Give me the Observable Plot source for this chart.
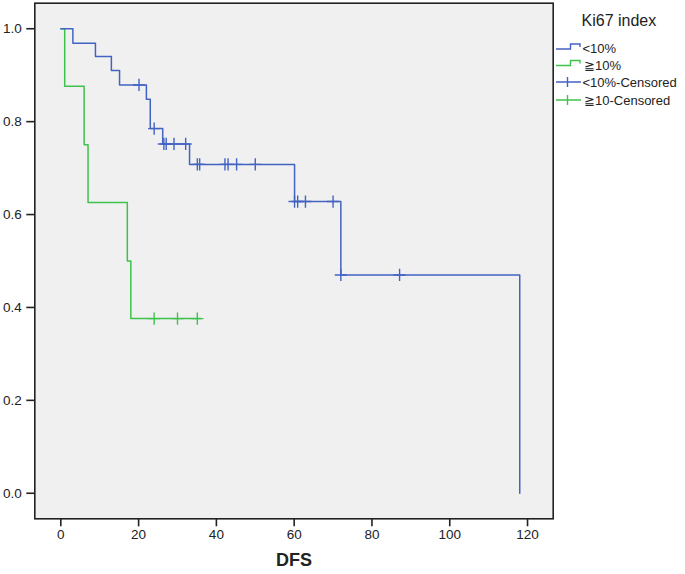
<!DOCTYPE html>
<html>
<head>
<meta charset="utf-8">
<script src="https://cdn.jsdelivr.net/npm/d3@7"></script>
<script src="https://cdn.jsdelivr.net/npm/@observablehq/plot@0.6"></script>
<style>
  html, body { margin: 0; padding: 0; background: #fff; }
  #wrap { position: relative; width: 685px; height: 574px; font-family: "Liberation Sans", Arial, sans-serif; }
  #legend { position: absolute; left: 0; top: 0; }
</style>
</head>
<body>
<div id="wrap"></div>
<script>
// Kaplan–Meier curves (DFS in months, survival proportion)
const lowTimes   = [0, 3.1, 8.9, 13.0, 15.1, 22.0, 23.0, 26.2, 33.1, 60.1, 72.0, 118.0];
const lowSurv    = [1, 0.969, 0.940, 0.910, 0.879, 0.848, 0.785, 0.752, 0.708, 0.628, 0.470, 0];
const lowCensor  = [20.1, 24.0, 26.5, 27.1, 29.1, 32.1, 35.1, 35.7, 42.2, 43.0, 45.2, 50.0, 60.1, 60.9, 62.9, 70.0, 72.0, 87.1];

const highTimes  = [0, 1.0, 6.0, 7.0, 17.1, 18.0, 36.0];
const highSurv   = [1, 0.876, 0.750, 0.626, 0.500, 0.376, 0.376];
const highCensor = [24.0, 30.0, 35.1];

const xTicks = [0, 20, 40, 60, 80, 100, 120];
const yTicks = [0, 0.2, 0.4, 0.6, 0.8, 1.0];

const groups = ["<10%", "≧10%"];
const censorLabels = ["<10%-Censored", "≧10-Censored"];
const legendTitle = "Ki67 index";
const xLabel = "DFS";

const blue = "#4363c3";
const green = "#3fc24c";

function stepValue(times, surv, t) {
  let v = surv[0];
  for (let i = 0; i < times.length; i++) if (t >= times[i]) v = surv[i];
  return v;
}
const lowLine = lowTimes.map((t, i) => ({t, s: lowSurv[i]}));
const highLine = highTimes.map((t, i) => ({t, s: highSurv[i]}));
const lowC = lowCensor.map(t => ({t, s: stepValue(lowTimes, lowSurv, t)}));
const highC = highCensor.map(t => ({t, s: stepValue(highTimes, highSurv, t)}));

const chart = Plot.plot({
  width: 685,
  height: 574,
  marginLeft: 34.3,
  marginRight: 132.3,
  marginTop: 2.7,
  marginBottom: 55.7,
  style: {fontFamily: "'Liberation Sans', Arial, sans-serif", fontSize: "13.5px", background: "#fff", color: "#222"},
  x: {domain: [-6.69, 126.6], label: null},
  y: {domain: [-0.055, 1.055], label: null},
  marks: [
    Plot.frame({fill: "#f0f0f0", stroke: null}),
    Plot.line(highLine, {x: "t", y: "s", curve: "step-after", stroke: green, strokeWidth: 1.5}),
    Plot.line(lowLine, {x: "t", y: "s", curve: "step-after", stroke: blue, strokeWidth: 1.5}),
    Plot.dot(highC, {x: "t", y: "s", symbol: "plus", r: 4, stroke: green, strokeWidth: 1.4}),
    Plot.dot(lowC, {x: "t", y: "s", symbol: "plus", r: 4, stroke: blue, strokeWidth: 1.4}),
    Plot.frame({stroke: "#222", strokeWidth: 1.6}),
    Plot.axisX({ticks: xTicks, tickSize: 8, tickPadding: 3, label: null, strokeWidth: 1.6, fontSize: 13.5}),
    Plot.axisY({ticks: yTicks, tickSize: 8, tickPadding: 5, tickFormat: d3.format(".1f"), label: null, strokeWidth: 1.6, fontSize: 13.5}),
    Plot.text([xLabel], {frameAnchor: "bottom", dy: 47, text: d => d, fontWeight: "bold", fontSize: 18, fill: "#222"})
  ]
});
const wrap = document.getElementById("wrap");
wrap.appendChild(chart);

// Legend (outside the plot frame, on the right)
const ns = "http://www.w3.org/2000/svg";
const leg = document.createElementNS(ns, "svg");
leg.setAttribute("id", "legend");
leg.setAttribute("width", 685);
leg.setAttribute("height", 120);
leg.style.fontFamily = "'Liberation Sans', Arial, sans-serif";
function el(tag, attrs, text) {
  const e = document.createElementNS(ns, tag);
  for (const k in attrs) e.setAttribute(k, attrs[k]);
  if (text != null) e.textContent = text;
  leg.appendChild(e);
  return e;
}
el("text", {x: 581.5, y: 26, "font-size": 16, fill: "#222"}, legendTitle);
const rows = [48.5, 65, 82, 100];
const cols = [blue, green, blue, green];
const labels = [groups[0], groups[1], censorLabels[0], censorLabels[1]];
rows.forEach((ry, i) => {
  if (i < 2) {
    el("path", {d: `M556,${ry + 0.5} H570.5 V${ry - 4.5} H580 V${ry - 1.5}`, fill: "none", stroke: cols[i], "stroke-width": 1.4});
  } else {
    el("path", {d: `M556,${ry} H581 M567.5,${ry - 5} V${ry + 5}`, fill: "none", stroke: cols[i], "stroke-width": 1.4});
  }
  el("text", {x: i % 2 ? 584 : 582.5, y: ry + 4.6, "font-size": 13, fill: "#222"}, labels[i]);
});
wrap.appendChild(leg);
</script>
</body>
</html>
